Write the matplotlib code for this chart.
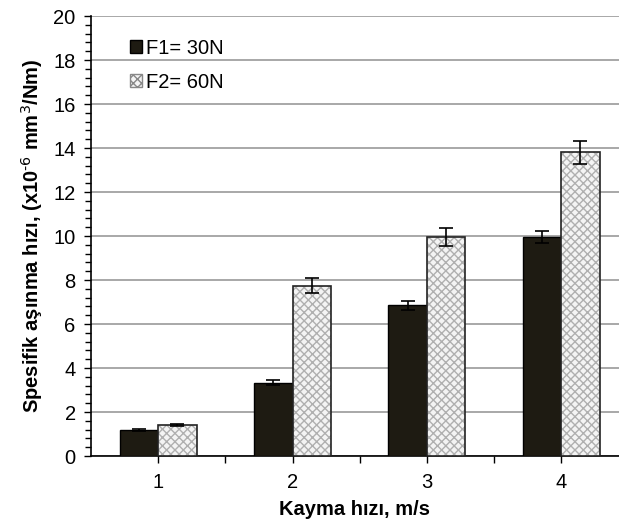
import matplotlib
matplotlib.use('Agg')
import matplotlib.pyplot as plt
from matplotlib.patches import Patch
from matplotlib.ticker import MultipleLocator
import numpy as np

plt.rcParams['font.family'] = ['Liberation Sans', 'DejaVu Sans']

# ---- data ----
hizlar = [1, 2, 3, 4]
f1_vals = [1.2, 3.33, 6.85, 9.97]
f1_err = [0.05, 0.12, 0.2, 0.28]
f2_vals = [1.4, 7.75, 9.95, 13.8]
f2_err = [0.05, 0.32, 0.42, 0.54]
seri_isim = ['F1= 30N', 'F2= 60N']

fig = plt.figure(figsize=(6.19, 5.22), dpi=100)
ax = fig.add_axes([0.147, 0.1264, 0.853, 0.8429])

x = np.array(hizlar, dtype=float)
w = 0.286
koyu = '#1e1b12'

# F1 bars (dark)
ax.bar(x - w / 2, f1_vals, w, color=koyu, edgecolor='black', linewidth=1, zorder=3)
# F2 bars (hatched) - pattern first, then black outline on top
ax.bar(x + w / 2, f2_vals, w, color='#f4f4f4', edgecolor='#b0b0b0', hatch='xxxx',
       linewidth=0, zorder=3)
ax.bar(x + w / 2, f2_vals, w, fill=False, edgecolor='#222222', linewidth=1.2, zorder=4)

ax.errorbar(x - w / 2, f1_vals, yerr=f1_err, fmt='none', ecolor='black',
            elinewidth=1.2, capsize=5, capthick=1.2, zorder=5)
ax.errorbar(x + w / 2, f2_vals, yerr=f2_err, fmt='none', ecolor='black',
            elinewidth=1.2, capsize=5, capthick=1.2, zorder=5)

ax.set_xlim(0.5, 4.43)
ax.set_ylim(0, 20)
ax.yaxis.set_major_locator(MultipleLocator(2))
ax.yaxis.set_minor_locator(MultipleLocator(0.4))
ax.set_xticks(hizlar)
ax.set_xticks([1.5, 2.5, 3.5], minor=True)
ax.tick_params(axis='both', which='major', labelsize=14.5, length=5, width=1, direction='out')
ax.tick_params(axis='y', which='minor', length=4, width=1, direction='out')
ax.tick_params(axis='x', which='minor', length=5, width=1, direction='out')
ax.tick_params(axis='x', pad=7)
ax.tick_params(axis='y', pad=6)

ax.grid(axis='y', which='major', color='#9a9a9a', linewidth=1.2, zorder=0)
ax.set_axisbelow(True)

for s in ['top', 'right']:
    ax.spines[s].set_visible(False)
ax.spines['left'].set_linewidth(1.2)
ax.spines['bottom'].set_linewidth(1.2)

ax.set_xlabel('Kayma hızı, m/s', fontsize=14.5, fontweight='bold', labelpad=6)
ax.set_ylabel('Spesifik aşınma hızı, (x10$^{\\text{-6}}$ mm$^{\\text{3}}$/Nm)', fontsize=14.5,
              fontweight='bold', labelpad=6)

handles = [Patch(facecolor=koyu, edgecolor='black'),
           Patch(facecolor='#f4f4f4', edgecolor='#888888', hatch='xxxx')]
ax.legend(handles, seri_isim, loc='upper left', frameon=False, fontsize=14.5,
          handlelength=0.6, handleheight=0.6, handletextpad=0.2,
          labelspacing=0.75, bbox_to_anchor=(0.04, 0.99))

fig.savefig('out.png', dpi=100)
